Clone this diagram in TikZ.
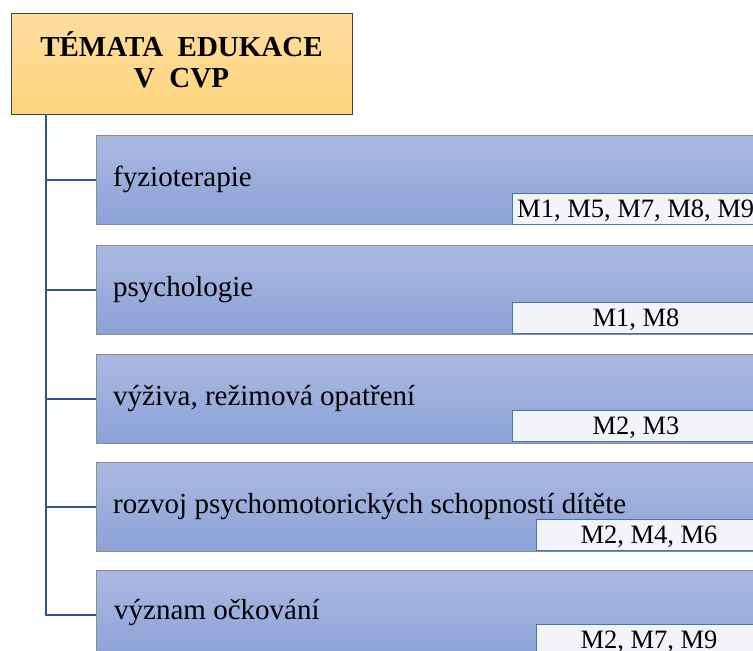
\documentclass[tikz,border=0pt]{standalone}
\usepackage{fontspec}
\setmainfont{Liberation Serif}
\definecolor{trunk}{HTML}{2F5597}
\definecolor{topicTop}{HTML}{AAB9E1}
\definecolor{topicBot}{HTML}{8CA2D7}
\definecolor{headTop}{HTML}{FFDDA0}
\definecolor{headBot}{HTML}{FDD57C}
\definecolor{tagFill}{HTML}{F3F4F9}
\definecolor{tagLine}{HTML}{4472C4}
\tikzset{
  headbox/.style={draw=black!75, line width=1pt, top color=headTop, bottom color=headBot},
  topicbox/.style={draw=black!45, line width=1pt, top color=topicTop, bottom color=topicBot},
  tagbox/.style={draw=tagLine, line width=1pt, fill=tagFill},
  topictext/.style={anchor=base west, inner sep=0pt, font=\fontsize{29}{33}\selectfont},
  tagfont/.style={inner sep=0pt, font=\fontsize{26.5}{30}\selectfont},
  tagtext/.style={tagfont, anchor=base},
  branch/.style={draw=trunk, line width=2.6pt}
}
\begin{document}
\begin{tikzpicture}[x=1pt,y=1pt]
\useasboundingbox (0,0) rectangle (753,-651);
\begin{scope}
\clip (0,0) rectangle (753,-651);
% header box
\path[headbox] (11,-13) rectangle (352,-114);
\node[inner sep=0pt, align=center, font=\bfseries\fontsize{29}{31}\selectfont] (head) at (181.5,-59.5)
  {TÉMATA~ EDUKACE\\V~ CVP};
\coordinate (top) at (46,-114);
% topic boxes
\foreach \i/\t in {1/135,2/245,3/354,4/462,5/570}{
  \path[topicbox] (96,-\t) rectangle (790,-\t-89);
  \coordinate (k\i) at (96,-\t-45);
  \coordinate (t\i) at (113,-\t-51);
}
% tag boxes
\path[tagbox] (512,-193) rectangle (790,-224);
\path[tagbox] (512,-302) rectangle (790,-333);
\path[tagbox] (512,-410) rectangle (790,-441);
\path[tagbox] (536,-519) rectangle (790,-550);
\path[tagbox] (536,-624) rectangle (790,-655);
% topic texts
\node[topictext] (n1) at (t1) {fyzioterapie};
\node[topictext] (n2) at (t2) {psychologie};
\node[topictext] (n3) at (t3) {výživa, režimová opatření};
\node[topictext] (n4) at (t4) {rozvoj psychomotorických schopností dítěte};
\node[topictext] (n5) at (114,-619) {význam očkování};
% tag texts
\node[tagfont, anchor=base west] (m1) at (517,-217) {M1, M5, M7, M8, M9};
\node[tagtext] (m2) at (636,-326) {M1, M8};
\node[tagtext] (m3) at (636,-434) {M2, M3};
\node[tagtext] (m4) at (649,-543) {M2, M4, M6};
\node[tagtext] (m5) at (649,-648) {M2, M7, M9};
% trunk and branches
\draw[branch] (top) |- (k5);
\foreach \i in {1,2,3,4}{
  \draw[branch] (k\i -| top) -- (k\i);
}
\end{scope}
\end{tikzpicture}
\end{document}
